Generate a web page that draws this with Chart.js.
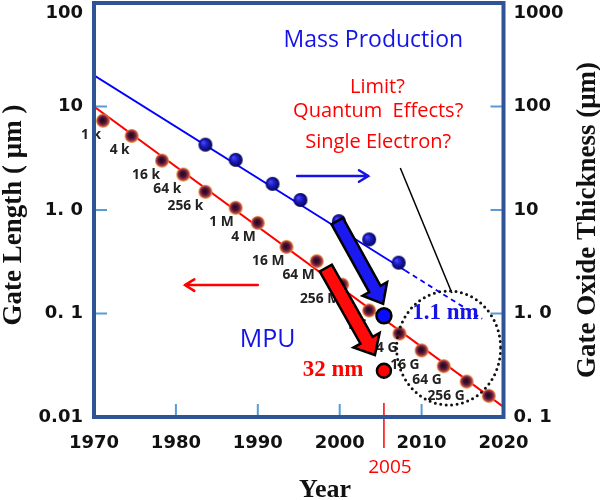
<!DOCTYPE html>
<html>
<head>
<meta charset="utf-8">
<script src="https://cdn.jsdelivr.net/npm/chart.js@4"></script>
<style>
  html, body { margin: 0; padding: 0; background: #fff; }
  #wrap { width: 600px; height: 500px; }
</style>
</head>
<body>
<div id="wrap"><canvas id="chart" width="600" height="500"></canvas></div>
<script>
// DRAM generations: gate length (um), left axis
const gateYears = [1971.1, 1974.6, 1978.3, 1980.9, 1983.6, 1987.3, 1990.0, 1993.5, 1997.2, 2000.3, 2003.6, 2007.3, 2010.0, 2012.7, 2015.5, 2018.2];
const gateLength = [7.3, 5.2, 3.0, 2.2, 1.5, 1.05, 0.75, 0.44, 0.32, 0.19, 0.107, 0.064, 0.044, 0.031, 0.022, 0.016];
const dramLabels = ['1 k', '4 k', '16 k', '64 k', '256 k', '1 M', '4 M', '16 M', '64 M', '256 M', '1 G', '4 G', '16 G', '64 G', '256 G', ''];

// gate oxide thickness, right axis units
const oxideYears = [1983.6, 1987.3, 1991.8, 1995.2, 1999.9, 2003.6, 2007.2];
const oxideThickness = [42.8, 30.5, 17.9, 12.5, 7.8, 5.2, 3.1];

// trend lines
const gateTrendYears = [1970, 2020];
const gateTrendValues = [10, 0.0125];
const oxideTrendYears = [1970, 2008];
const oxideTrendValues = [200, 2.6];
const oxideDashYears = [2008, 2017.4];
const oxideDashValues = [2.6, 0.89];

// MPU in 2005
const mpuYear = 2005.4;
const mpuGate = 0.028;   // 32 nm
const mpuOxide = 0.95;   // 1.1 nm

const xTicks = [1970, 1980, 1990, 2000, 2010, 2020];
const leftTicks = [0.01, 0.1, 1, 10, 100];
const leftTickLabels = ['0.01', '0. 1', '1. 0', '10', '100'];
const rightTicks = [0.1, 1, 10, 100, 1000];
const rightTickLabels = ['0. 1', '1. 0', '10', '100', '1000'];

const FRAME = '#2f5496';
const TICK = '#5b9bd5';
const RED = '#ff0000';
const BLUE = '#1414e6';

function makeBall(r, fx, fy, stops) {
  const c = document.createElement('canvas');
  c.width = c.height = r * 2 + 2;
  const g = c.getContext('2d');
  const cx = r + 1, cy = r + 1;
  const grad = g.createRadialGradient(cx + fx * r, cy + fy * r, r * 0.05, cx, cy, r);
  stops.forEach(s => grad.addColorStop(s[0], s[1]));
  g.fillStyle = grad;
  g.beginPath();
  g.arc(cx, cy, r, 0, Math.PI * 2);
  g.fill();
  return c;
}

const redBall = makeBall(7, -0.1, -0.1, [[0, '#200818'], [0.45, '#501438'], [0.75, '#a83848'], [1, '#f5a030']]);
const blueBall = makeBall(7, -0.35, -0.35, [[0, '#4a4aff'], [0.45, '#1c1cc8'], [1, '#05054a']]);

function pts(xs, ys) {
  return xs.map((x, i) => ({ x: x, y: ys[i] }));
}

function blockArrow(ctx, x1, y1, x2, y2, w, hw, hl, fill) {
  const dx = x2 - x1, dy = y2 - y1;
  const len = Math.hypot(dx, dy);
  const ux = dx / len, uy = dy / len;
  const nx = -uy, ny = ux;
  const bx = x2 - ux * hl, by = y2 - uy * hl;
  ctx.beginPath();
  ctx.moveTo(x1 + nx * w, y1 + ny * w);
  ctx.lineTo(bx + nx * w, by + ny * w);
  ctx.lineTo(bx + nx * hw, by + ny * hw);
  ctx.lineTo(x2, y2);
  ctx.lineTo(bx - nx * hw, by - ny * hw);
  ctx.lineTo(bx - nx * w, by - ny * w);
  ctx.lineTo(x1 - nx * w, y1 - ny * w);
  ctx.closePath();
  ctx.fillStyle = fill;
  ctx.fill();
  ctx.lineWidth = 2.5;
  ctx.strokeStyle = '#000';
  ctx.lineJoin = 'miter';
  ctx.stroke();
}

function lineArrow(ctx, x1, y1, x2, y2, color) {
  const a = Math.atan2(y2 - y1, x2 - x1);
  ctx.strokeStyle = color;
  ctx.lineWidth = 2.5;
  ctx.lineCap = 'round';
  ctx.beginPath();
  ctx.moveTo(x1, y1);
  ctx.lineTo(x2, y2);
  ctx.moveTo(x2 - 11 * Math.cos(a - 0.55), y2 - 11 * Math.sin(a - 0.55));
  ctx.lineTo(x2, y2);
  ctx.lineTo(x2 - 11 * Math.cos(a + 0.55), y2 - 11 * Math.sin(a + 0.55));
  ctx.stroke();
  ctx.lineCap = 'butt';
}

// labels under the dots
const dramLabelPlugin = {
  id: 'dramLabels',
  beforeDatasetsDraw(chart) {
    const ctx = chart.ctx;
    const meta = chart.getDatasetMeta(2);
    ctx.save();
    ctx.font = 'bold 15px "Open Sans"';
    ctx.fillStyle = '#222';
    ctx.textAlign = 'right';
    ctx.textBaseline = 'middle';
    meta.data.forEach((p, i) => {
      if (!dramLabels[i]) return;
      ctx.save();
      ctx.translate(p.x - 2, p.y + 14);
      ctx.scale(0.92, 1);
      ctx.fillText(dramLabels[i], 0, 0);
      ctx.restore();
    });
    ctx.restore();
  }
};

const annotationPlugin = {
  id: 'annotations',
  afterDatasetsDraw(chart) {
    const ctx = chart.ctx;
    const xs = chart.scales.x, ys = chart.scales.y;
    const X = v => xs.getPixelForValue(v);
    const Y = v => ys.getPixelForValue(v);
    const area = chart.chartArea;
    ctx.save();

    // texts
    ctx.textAlign = 'center';
    ctx.textBaseline = 'middle';
    ctx.fillStyle = BLUE;
    ctx.font = '23px "Open Sans"';
    ctx.fillText('Mass Production', X(2004.1), Y(43));
    ctx.fillStyle = RED;
    ctx.font = '20px "Open Sans"';
    ctx.fillText('Limit?', X(2004.6), Y(15.4));
    ctx.fillText('Quantum  Effects?', X(2004.7), Y(9.05));
    ctx.fillText('Single Electron?', X(2004.7), Y(4.54));
    ctx.fillStyle = BLUE;
    ctx.font = '25px "Open Sans"';
    ctx.fillText('MPU', X(1991.2), Y(0.0555));
    ctx.font = 'bold 23px "Liberation Serif"';
    ctx.fillText('1.1 nm', X(2012.9), Y(0.101));
    ctx.fillStyle = RED;
    ctx.fillText('32 nm', X(1999.2), Y(0.0285));

    // small direction arrows
    lineArrow(ctx, X(1994.8), Y(2.13), X(2003.5), Y(2.13), BLUE);
    lineArrow(ctx, X(1990.0), Y(0.188), X(1981.1), Y(0.188), RED);

    // pointer line to the limit circle
    ctx.strokeStyle = '#000';
    ctx.lineWidth = 1.5;
    ctx.beginPath();
    ctx.moveTo(X(2007.4), Y(2.55));
    ctx.lineTo(X(2013.7), Y(0.158));
    ctx.stroke();

    // dotted limit circle
    ctx.setLineDash([0, 5.5]);
    ctx.lineCap = 'round';
    ctx.lineWidth = 3;
    ctx.strokeStyle = '#111';
    ctx.beginPath();
    ctx.ellipse(X(2013.3), Y(0.0464), 52, 57, 0, 0, Math.PI * 2);
    ctx.stroke();
    ctx.setLineDash([]);
    ctx.lineCap = 'butt';

    // big arrows towards 2005
    blockArrow(ctx, X(1999.7), Y(0.78), X(2005.3), Y(0.124), 6.5, 14, 17, '#1a1af0');
    blockArrow(ctx, X(1998.3), Y(0.275), X(2004.3), Y(0.0397), 7, 15, 17, '#ff0a0a');

    // 2005 marker below the axis
    ctx.strokeStyle = RED;
    ctx.lineWidth = 1.5;
    ctx.beginPath();
    ctx.moveTo(X(mpuYear), area.bottom - 14);
    ctx.lineTo(X(mpuYear), area.bottom + 31);
    ctx.stroke();
    ctx.fillStyle = RED;
    ctx.font = '19px "Open Sans"';
    ctx.fillText('2005', X(mpuYear) + 6, area.bottom + 51);

    // inner ticks
    ctx.strokeStyle = TICK;
    ctx.lineWidth = 2;
    ctx.beginPath();
    [0.1, 1, 10].forEach(v => {
      ctx.moveTo(area.left, Y(v)); ctx.lineTo(area.left + 13, Y(v));
      ctx.moveTo(area.right, Y(v)); ctx.lineTo(area.right - 13, Y(v));
    });
    xTicks.slice(1, -1).forEach(v => {
      ctx.moveTo(X(v), area.bottom); ctx.lineTo(X(v), area.bottom - 13);
    });
    ctx.stroke();

    // frame
    ctx.strokeStyle = FRAME;
    ctx.lineWidth = 4;
    ctx.strokeRect(area.left, area.top, area.right - area.left, area.bottom - area.top);

    // axis titles
    ctx.fillStyle = '#111';
    ctx.font = 'bold 27px "Liberation Serif"';
    ctx.save();
    ctx.translate(14, 215);
    ctx.rotate(-Math.PI / 2);
    ctx.fillText('Gate Length ( \u03bcm )', 0, 0);
    ctx.restore();
    ctx.save();
    ctx.translate(588, 220);
    ctx.rotate(-Math.PI / 2);
    ctx.fillText('Gate Oxide Thickness (\u03bcm)', 0, 0);
    ctx.restore();
    ctx.font = 'bold 26px "Liberation Serif"';
    ctx.textBaseline = 'alphabetic';
    ctx.fillText('Year', 325, 497);

    ctx.restore();
  }
};

const tickFont = { family: 'DejaVu Sans', size: 18, weight: 'bold' };

new Chart(document.getElementById('chart').getContext('2d'), {
  type: 'scatter',
  data: {
    datasets: [
      {
        label: 'MPU gate',
        data: [{ x: mpuYear, y: mpuGate }],
        yAxisID: 'y',
        pointRadius: 7,
        backgroundColor: '#ff0000',
        borderColor: '#000',
        borderWidth: 2.5,
        order: 0
      },
      {
        label: 'MPU oxide',
        data: [{ x: mpuYear, y: mpuOxide }],
        yAxisID: 'y2',
        pointRadius: 7.5,
        backgroundColor: '#0a0aff',
        borderColor: '#000',
        borderWidth: 2.5,
        order: 0
      },
      {
        label: 'Gate length',
        data: pts(gateYears, gateLength),
        yAxisID: 'y',
        pointStyle: redBall,
        pointRadius: 7,
        order: 1
      },
      {
        label: 'Oxide thickness',
        data: pts(oxideYears, oxideThickness),
        yAxisID: 'y2',
        pointStyle: blueBall,
        pointRadius: 7,
        order: 1
      },
      {
        label: 'Gate trend',
        data: pts(gateTrendYears, gateTrendValues),
        yAxisID: 'y',
        showLine: true,
        pointRadius: 0,
        borderColor: RED,
        borderWidth: 2,
        order: 2
      },
      {
        label: 'Oxide trend',
        data: pts(oxideTrendYears, oxideTrendValues),
        yAxisID: 'y2',
        showLine: true,
        pointRadius: 0,
        borderColor: '#0000ff',
        borderWidth: 1.8,
        order: 2
      },
      {
        label: 'Oxide trend (extrapolated)',
        data: pts(oxideDashYears, oxideDashValues),
        yAxisID: 'y2',
        showLine: true,
        pointRadius: 0,
        borderColor: '#0000ff',
        borderWidth: 1.8,
        borderDash: [5, 4],
        order: 2
      }
    ]
  },
  options: {
    responsive: false,
    animation: false,
    events: [],
    layout: { autoPadding: false, padding: { top: 3, left: 0, right: 0, bottom: 0 } },
    plugins: {
      legend: { display: false },
      tooltip: { enabled: false }
    },
    scales: {
      x: {
        type: 'linear',
        position: 'bottom',
        min: 1970,
        max: 2020,
        afterBuildTicks: s => { s.ticks = xTicks.map(v => ({ value: v })); },
        afterFit: s => { s.height = 83; s.paddingLeft = 0; s.paddingRight = 0; },
        grid: { display: false, drawTicks: false },
        border: { display: false },
        ticks: {
          padding: 16,
          autoSkip: false,
          maxRotation: 0,
          color: '#111',
          font: tickFont,
          callback: v => String(v)
        }
      },
      y: {
        type: 'logarithmic',
        position: 'left',
        min: 0.01,
        max: 100,
        afterBuildTicks: s => { s.ticks = leftTicks.map(v => ({ value: v })); },
        afterFit: s => { s.width = 94; s.paddingTop = 0; s.paddingBottom = 0; },
        grid: { display: false, drawTicks: false },
        border: { display: false },
        ticks: {
          padding: 11,
          autoSkip: false,
          color: '#111',
          font: tickFont,
          callback: v => {
            const lab = leftTickLabels[leftTicks.indexOf(v)];
            return v === 100 ? ['', lab] : lab;
          }
        }
      },
      y2: {
        type: 'logarithmic',
        position: 'right',
        min: 0.1,
        max: 1000,
        afterBuildTicks: s => { s.ticks = rightTicks.map(v => ({ value: v })); },
        afterFit: s => { s.width = 96.5; s.paddingTop = 0; s.paddingBottom = 0; },
        grid: { display: false, drawTicks: false },
        border: { display: false },
        ticks: {
          padding: 10,
          autoSkip: false,
          color: '#111',
          font: tickFont,
          callback: v => {
            const lab = rightTickLabels[rightTicks.indexOf(v)];
            return v === 1000 ? ['', lab] : lab;
          }
        }
      }
    }
  },
  plugins: [dramLabelPlugin, annotationPlugin]
});
</script>
</body>
</html>
